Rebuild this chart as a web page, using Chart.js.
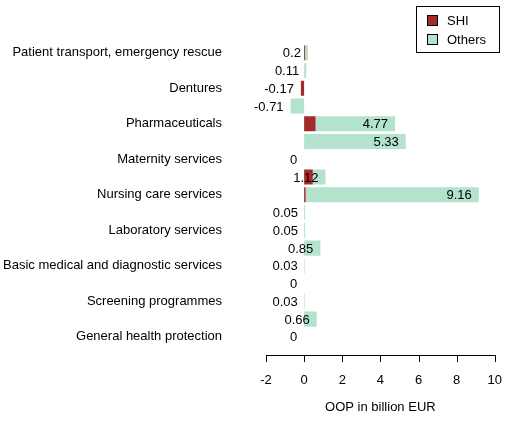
<!DOCTYPE html>
<html><head><meta charset="utf-8">
<script src="https://cdn.jsdelivr.net/npm/chart.js@4"></script>
<style>html,body{margin:0;background:#fff}#w{width:521px;height:443px}</style>
</head><body><div id="w"><canvas id="c"></canvas></div>
<script>
const categories=["Patient transport, emergency rescue","Other medical products","Dentures","Therapeutic appliances","Pharmaceuticals","Food and lodging","Maternity services","Therapeutic ancillary services","Nursing care services","Diagnostic imaging","Laboratory services","Special medical services","Basic medical and diagnostic services","Certification and co-ordination","Screening programmes","Health promotion","General health protection"];
const shi=[0.05,0,-0.17,0,0.6,0,0,0.45,0.08,0,0,0,0,0,0,0,0];
const others=[0.15,0.11,0,-0.71,4.17,5.33,0,0.67,9.08,0.05,0.05,0.85,0.03,0,0.03,0.66,0];
const totals=["0.2","0.11","-0.17","-0.71","4.77","5.33","0","1.12","9.16","0.05","0.05","0.85","0.03","0","0.03","0.66","0"];
const xTicks=[-2,0,2,4,6,8,10];
const F='Liberation Sans, Arial, sans-serif';
const deco={id:'deco',afterDatasetsDraw(ch){
 const c=ch.ctx,x=ch.scales.x,y=ch.scales.y;
 c.save();c.font='13px '+F;c.fillStyle='#000';c.textAlign='right';c.textBaseline='middle';
 totals.forEach((t,i)=>{c.fillText(t,x.getPixelForValue(parseFloat(t))-7,y.getPixelForValue(i)+1);});
 const ay=355;c.strokeStyle='#000';c.lineWidth=1;c.beginPath();
 c.moveTo(x.getPixelForValue(-2),ay+0.5);c.lineTo(x.getPixelForValue(10),ay+0.5);
 xTicks.forEach(v=>{const px=Math.round(x.getPixelForValue(v))+0.5;c.moveTo(px,ay);c.lineTo(px,ay+7);});
 c.stroke();
 c.textAlign='center';c.fillText('OOP in billion EUR',x.getPixelForValue(4),407);
 c.strokeRect(416.5,6.5,83,46);
 c.textAlign='left';
 [['SHI','#a52a2a'],['Others','#b3e2cd']].forEach((l,i)=>{const yy=20+i*19;c.fillStyle=l[1];c.fillRect(427,yy-5,11,11);c.strokeStyle='#000';c.strokeRect(427.5,yy-4.5,10,10);c.fillStyle='#000';c.font='13px '+F;c.fillText(l[0],447,yy+1);});
 c.restore();}};
new Chart(document.getElementById('c'),{type:'bar',
 data:{labels:categories,datasets:[
  {label:'SHI',data:shi,backgroundColor:'#a52a2a',barPercentage:0.85,categoryPercentage:1},
  {label:'Others',data:others,backgroundColor:'#b3e2cd',barPercentage:0.85,categoryPercentage:1}]},
 options:{indexAxis:'y',responsive:true,maintainAspectRatio:false,animation:false,
  layout:{padding:{top:4,right:8,left:0,bottom:0}},
  plugins:{legend:{display:false},tooltip:{enabled:false}},
  scales:{
   x:{stacked:true,min:-2,max:10,grid:{display:false},border:{display:false},
      afterBuildTicks(s){s.ticks=xTicks.map(v=>({value:v}));},
      ticks:{color:'#000',font:{family:F,size:13},padding:19,maxRotation:0},
      title:{display:true,text:' ',font:{size:13},padding:{top:16}}},
   y:{stacked:true,grid:{display:false},border:{display:false},
      afterFit(s){s.width=266;},
      ticks:{color:'#000',font:{family:F,size:13},padding:36}}}},
 plugins:[deco]});
</script></body></html>
